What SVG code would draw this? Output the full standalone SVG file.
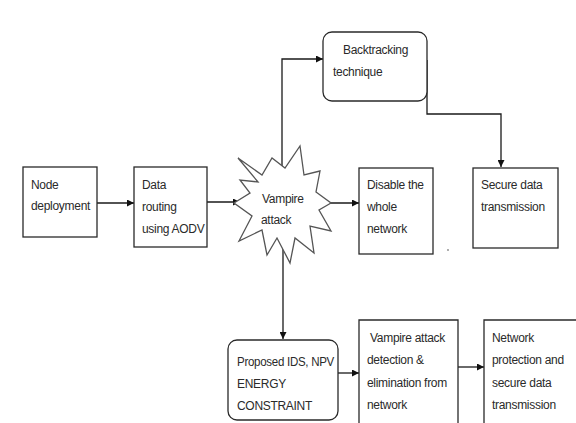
<svg xmlns="http://www.w3.org/2000/svg" width="576" height="423" viewBox="0 0 576 423">
<defs>
<marker id="ah" viewBox="0 0 10 10" refX="10" refY="5" markerWidth="7" markerHeight="7" markerUnits="userSpaceOnUse" orient="auto">
<path d="M0,0 L10,5 L0,10 z" fill="#111"/>
</marker>
<style>
.box{fill:#fff;stroke:#2a2a2a;stroke-width:1.3}
.t{font-family:"Liberation Sans",Arial,sans-serif;font-size:12px;fill:#2a2a2a;letter-spacing:-0.3px}
.c{fill:none;stroke:#1a1a1a;stroke-width:1.3}
</style>
</defs>
<rect width="576" height="423" fill="#fff"/>
<g id="connectors">
<line class="c" x1="97" y1="203" x2="134" y2="203" marker-end="url(#ah)"/>
<line class="c" x1="207" y1="202" x2="240" y2="202" marker-end="url(#ah)"/>
<path class="c" d="M282,190 V59 H323" marker-end="url(#ah)"/>
<path class="c" d="M427,60 V114 H501 V167" marker-end="url(#ah)"/>
<line class="c" x1="326" y1="203" x2="359" y2="203" marker-end="url(#ah)"/>
<line class="c" x1="283" y1="240" x2="283" y2="339" marker-end="url(#ah)"/>
<line class="c" x1="338" y1="373" x2="359" y2="373" marker-end="url(#ah)"/>
<line class="c" x1="458" y1="367" x2="484" y2="367" marker-end="url(#ah)"/>
</g>
<g id="node-deployment">
<rect class="box" x="23" y="167" width="74" height="70"/>
<text class="t" x="31" y="189">Node</text>
<text class="t" x="31" y="210">deployment</text>
</g>
<g id="data-routing">
<rect class="box" x="134" y="167" width="73" height="80"/>
<text class="t" x="142" y="189">Data</text>
<text class="t" x="142" y="211">routing</text>
<text class="t" x="142" y="233">using AODV</text>
</g>
<g id="vampire-attack">
<polygon fill="#fff" stroke="#555" stroke-width="1.3" stroke-linejoin="miter" points="238,158 262,175 272,158 285,168 300,146 304,175 320,171 316,192 331,203 319,210 331,231 310,226 314,253 295,238 290,263 277,238 267,255 262,230 239,241 252,216 234,203 250,193 240,180 258,182"/>
<text class="t" x="262" y="203">Vampire</text>
<text class="t" x="261" y="224">attack</text>
</g>
<g id="backtracking">
<rect class="box" x="323" y="32" width="104" height="69" rx="9"/>
<text class="t" x="343" y="54">Backtracking</text>
<text class="t" x="333" y="76">technique</text>
</g>
<g id="disable">
<rect class="box" x="359" y="168" width="74" height="86"/>
<text class="t" x="367" y="189">Disable the</text>
<text class="t" x="367" y="211">whole</text>
<text class="t" x="367" y="233">network</text>
</g>
<g id="secure">
<rect class="box" x="473" y="168" width="85" height="80"/>
<text class="t" x="481" y="189">Secure data</text>
<text class="t" x="481" y="211">transmission</text>
</g>
<circle cx="448" cy="250" r="0.9" fill="#888"/>
<g id="proposed">
<rect class="box" x="228" y="340" width="110" height="80" rx="9"/>
<text class="t" x="237" y="366" textLength="97" lengthAdjust="spacingAndGlyphs">Proposed IDS, NPV</text>
<text class="t" x="237" y="388">ENERGY</text>
<text class="t" x="237" y="410">CONSTRAINT</text>
</g>
<g id="detection">
<path class="box" d="M359,424 V320 H458 V424"/>
<text class="t" x="370" y="342">Vampire attack</text>
<text class="t" x="367" y="364">detection &amp;</text>
<text class="t" x="367" y="387">elimination from</text>
<text class="t" x="367" y="409">network</text>
</g>
<g id="protection">
<path class="box" d="M484,424 V320 H578"/>
<text class="t" x="492" y="342">Network</text>
<text class="t" x="492" y="364">protection and</text>
<text class="t" x="492" y="387">secure data</text>
<text class="t" x="492" y="409">transmission</text>
</g>
</svg>
